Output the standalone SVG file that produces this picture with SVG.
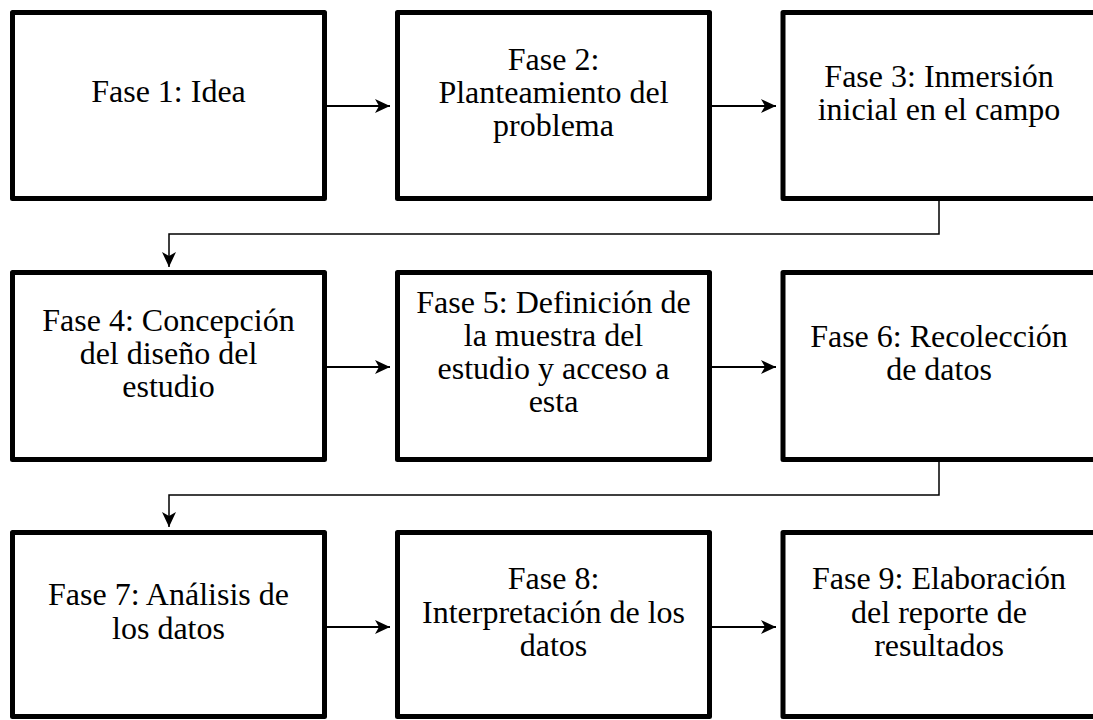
<svg xmlns="http://www.w3.org/2000/svg" width="1093" height="720" viewBox="0 0 1093 720">
<style>
.box{fill:#fff;stroke:#000;stroke-width:5;stroke-linejoin:round}
.t{font-family:"Liberation Serif","Times New Roman",serif;font-size:32px;fill:#000;text-anchor:middle}
.c{fill:none;stroke:#000;stroke-width:1.5}
.a{fill:none;stroke:#000;stroke-width:2}
</style>
<defs>
<marker id="ah" markerUnits="userSpaceOnUse" markerWidth="16" markerHeight="16" refX="15" refY="7" orient="auto">
<path d="M0,0 L15,7 L0,14 L4,7 z" fill="#000"/>
</marker>
</defs>
<g id="n1"><rect class="box" x="12.5" y="12.5" width="312" height="186"/><text class="t" x="168.5" y="102">Fase 1: Idea</text></g>
<g id="n2"><rect class="box" x="397.5" y="12.5" width="312" height="186"/><text class="t" x="553.5"><tspan x="553.5" y="70">Fase 2:</tspan><tspan x="553.5" y="103">Planteamiento del</tspan><tspan x="553.5" y="136">problema</tspan></text></g>
<g id="n3"><rect class="box" x="783" y="12.5" width="320" height="186"/><text class="t" x="939"><tspan x="939" y="87">Fase 3: Inmersión</tspan><tspan x="939" y="120">inicial en el campo</tspan></text></g>
<g id="n4"><rect class="box" x="12.5" y="272.5" width="312" height="187"/><text class="t"><tspan x="168.5" y="331">Fase 4: Concepción</tspan><tspan x="168.5" y="364">del diseño del</tspan><tspan x="168.5" y="397">estudio</tspan></text></g>
<g id="n5"><rect class="box" x="397.5" y="272.5" width="312" height="187"/><text class="t"><tspan x="553.5" y="313">Fase 5: Definición de</tspan><tspan x="553.5" y="346">la muestra del</tspan><tspan x="553.5" y="379">estudio y acceso a</tspan><tspan x="553.5" y="412">esta</tspan></text></g>
<g id="n6"><rect class="box" x="783" y="272.5" width="320" height="187"/><text class="t"><tspan x="939" y="347">Fase 6: Recolección</tspan><tspan x="939" y="380">de datos</tspan></text></g>
<g id="n7"><rect class="box" x="12.5" y="532.5" width="312" height="184"/><text class="t"><tspan x="168.5" y="605">Fase 7: Análisis de</tspan><tspan x="168.5" y="639">los datos</tspan></text></g>
<g id="n8"><rect class="box" x="397.5" y="532.5" width="312" height="184"/><text class="t"><tspan x="553.5" y="589">Fase 8:</tspan><tspan x="553.5" y="623">Interpretación de los</tspan><tspan x="553.5" y="656">datos</tspan></text></g>
<g id="n9"><rect class="box" x="783" y="532.5" width="320" height="184"/><text class="t"><tspan x="939" y="589">Fase 9: Elaboración</tspan><tspan x="939" y="623">del reporte de</tspan><tspan x="939" y="656">resultados</tspan></text></g>
<g id="connectors">
<path class="a" d="M327,106 H390" marker-end="url(#ah)"/>
<path class="a" d="M712,106 H776" marker-end="url(#ah)"/>
<path class="c" d="M939,201 V234 H169 V267" marker-end="url(#ah)"/>
<path class="a" d="M327,367 H390" marker-end="url(#ah)"/>
<path class="a" d="M712,367 H776" marker-end="url(#ah)"/>
<path class="c" d="M939,462 V495 H169 V527" marker-end="url(#ah)"/>
<path class="a" d="M327,627 H390" marker-end="url(#ah)"/>
<path class="a" d="M712,627 H776" marker-end="url(#ah)"/>
</g>
</svg>
